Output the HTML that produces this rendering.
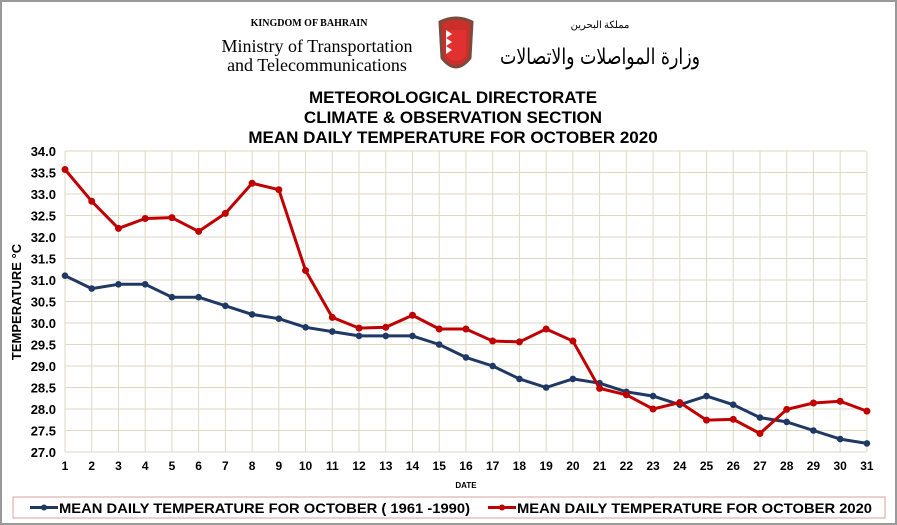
<!DOCTYPE html>
<html><head><meta charset="utf-8"><style>
body{margin:0;width:897px;height:525px;background:#fff;overflow:hidden}
svg{display:block}
</style></head><body>
<svg id="s" width="897" height="525" xmlns="http://www.w3.org/2000/svg" font-family="Liberation Sans, Arial, sans-serif">
<rect x="1" y="1" width="895" height="523" fill="#fff" stroke="#999" stroke-width="2"/>
<text x="309" y="26" font-family="Liberation Serif, serif" font-size="10" font-weight="bold" text-anchor="middle">KINGDOM OF BAHRAIN</text>
<text x="317" y="52" font-family="Liberation Serif, serif" font-size="18" text-anchor="middle">Ministry of Transportation</text>
<text x="317" y="71" font-family="Liberation Serif, serif" font-size="18" text-anchor="middle">and Telecommunications</text>
<path d="M440 22 Q456 14 472 22 L470 58 Q456 76 442 58 Z" fill="#c9302c" stroke="#7a4b3a" stroke-width="3"/>
<path d="M446 30 L466 30 L466 56 Q456 66 446 56 Z" fill="#e03030"/>
<path d="M446 30 L452 34 L446 38 L452 42 L446 46 L452 50 L446 54 Z" fill="#fff"/>
<text x="600" y="28" font-family="Noto Sans CJK SC, sans-serif" font-size="10" text-anchor="middle">مملكة البحرين</text>
<text x="500" y="64" font-family="DejaVu Sans, sans-serif" font-size="22" textLength="200" lengthAdjust="spacingAndGlyphs">وزارة المواصلات والاتصالات</text>
<g font-weight="bold" font-size="17" text-anchor="middle">
<text x="453" y="103">METEOROLOGICAL  DIRECTORATE</text>
<text x="453" y="123">CLIMATE &amp; OBSERVATION  SECTION</text>
<text x="453" y="143">MEAN  DAILY  TEMPERATURE  FOR OCTOBER 2020</text>
</g>
<g id="grid"></g>
<text transform="translate(21,302) rotate(-90)" font-size="13" font-weight="bold" text-anchor="middle">TEMPERATURE °C</text>
<text x="466" y="488" font-size="8" font-weight="bold" text-anchor="middle">DATE</text>
<rect x="13" y="497" width="872" height="21" fill="#fff" stroke="#d9a0a0"/>
<line x1="30" y1="507.5" x2="58" y2="507.5" stroke="#1f3864" stroke-width="3"/><circle cx="44" cy="507.5" r="3" fill="#1f3864"/>
<text x="59" y="513" font-size="14" font-weight="bold" textLength="411" lengthAdjust="spacingAndGlyphs">MEAN DAILY TEMPERATURE FOR OCTOBER ( 1961 -1990)</text>
<line x1="488" y1="507.5" x2="516" y2="507.5" stroke="#c00000" stroke-width="3"/><circle cx="502" cy="507.5" r="3" fill="#c00000"/>
<text x="517" y="513" font-size="14" font-weight="bold" textLength="355" lengthAdjust="spacingAndGlyphs">MEAN DAILY TEMPERATURE FOR OCTOBER 2020</text>
</svg>
<script>
var g=document.getElementById('grid'),h='';
function X(d){return 65+(d-1)*26.73}
function Y(v){return 452-(v-27)*43}
for(var i=0;i<=14;i++){var v=27+i*0.5,y=Y(v);h+='<line x1="65" x2="866" y1="'+y+'" y2="'+y+'" stroke="#ddd9c3"/>';h+='<text x="56" y="'+(y+5)+'" font-size="13" font-weight="bold" text-anchor="end">'+v.toFixed(1)+'</text>';}
for(var d=1;d<=31;d++){var x=X(d);h+='<line y1="151" y2="452" x1="'+x+'" x2="'+x+'" stroke="#ddd9c3"/>';h+='<text x="'+x+'" y="470" font-size="12" font-weight="bold" text-anchor="middle">'+d+'</text>';}
var b=[31.1,30.8,30.9,30.9,30.6,30.6,30.4,30.2,30.1,29.9,29.8,29.7,29.7,29.7,29.5,29.2,29.0,28.7,28.5,28.7,28.6,28.4,28.3,28.1,28.3,28.1,27.8,27.7,27.5,27.3,27.2];
var r=[33.57,32.83,32.2,32.43,32.45,32.13,32.55,33.25,33.1,31.22,30.13,29.88,29.9,30.18,29.86,29.86,29.58,29.56,29.86,29.58,28.48,28.33,28.0,28.15,27.74,27.76,27.43,27.99,28.14,28.18,27.95];
function ser(a,c,rad){var p=a.map(function(v,i){return X(i+1)+','+Y(v)}).join(' ');var s='<polyline points="'+p+'" fill="none" stroke="'+c+'" stroke-width="3" stroke-linejoin="round"/>';a.forEach(function(v,i){s+='<circle cx="'+X(i+1)+'" cy="'+Y(v)+'" r="'+rad+'" fill="'+c+'"/>'});return s}
h+=ser(b,'#1f3864',3.3)+ser(r,'#c00000',3.5);
g.innerHTML=h;
</script>
</body></html>
